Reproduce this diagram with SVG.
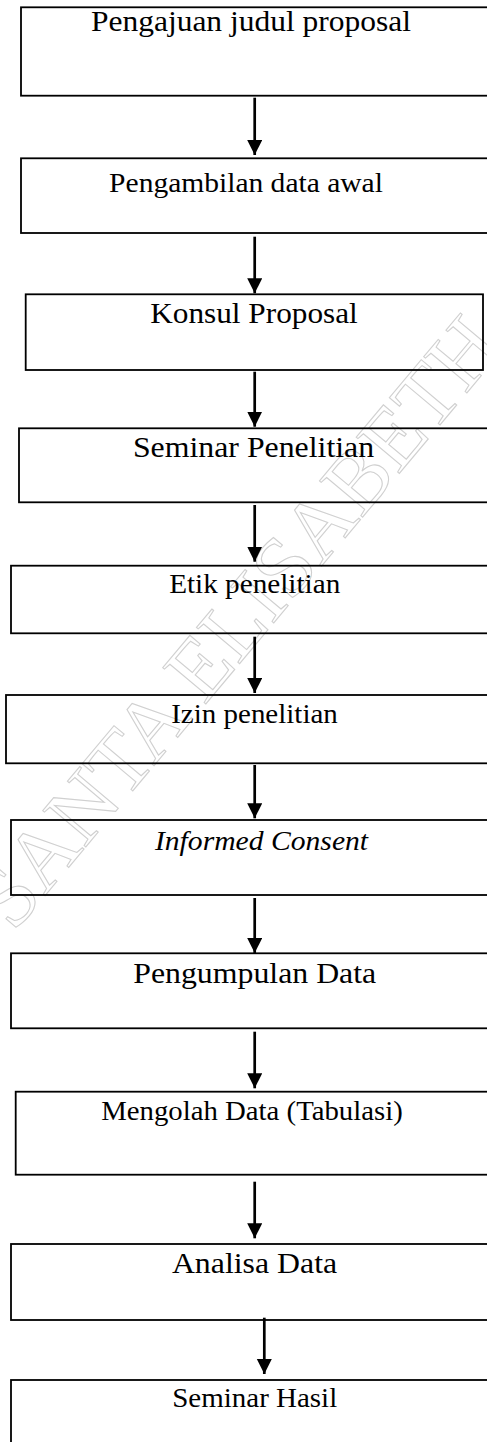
<svg xmlns="http://www.w3.org/2000/svg" width="487" height="1442" viewBox="0 0 487 1442">
<style>
.box{fill:none;stroke:#000;stroke-width:1.8}
.lbl{font-family:"Liberation Serif","Times New Roman",serif;fill:#000;text-anchor:middle}
.conn{stroke:#000;stroke-width:2.7;fill:none}
.wm{font-family:"Liberation Serif","Times New Roman",serif;font-size:86px;fill:none;stroke:#d0d0d0;stroke-width:1.1;text-anchor:middle}
</style>
<defs>
<marker id="ah" markerUnits="userSpaceOnUse" markerWidth="16" markerHeight="16" viewBox="0 0 16 16" refX="15" refY="7.5" orient="auto">
<path d="M0,0 L15,7.5 L0,15 z" fill="#000"/>
</marker>
</defs>
<rect width="487" height="1442" fill="#fff"/>
<g id="watermark">
<text class="wm" transform="translate(238,622) rotate(-50)" y="28">SANTA ELISABETH</text>
</g>
<g id="n1"><rect class="box" x="21" y="7.3" width="490" height="88.4"/><text class="lbl" transform="translate(251,31) scale(1.09,1)" font-size="28.9">Pengajuan judul proposal</text></g>
<g id="n2"><rect class="box" x="21" y="158.3" width="490" height="74.7"/><text class="lbl" transform="translate(246,192) scale(1.09,1)" font-size="27.1">Pengambilan data awal</text></g>
<g id="n3"><rect class="box" x="25.7" y="294.3" width="457.3" height="75.7"/><text class="lbl" transform="translate(254,322.5) scale(1.09,1)" font-size="28.7">Konsul Proposal</text></g>
<g id="n4"><rect class="box" x="19" y="428.3" width="490" height="74"/><text class="lbl" transform="translate(253.5,456.7) scale(1.09,1)" font-size="29.2">Seminar Penelitian</text></g>
<g id="n5"><rect class="box" x="11" y="565.7" width="490" height="67.6"/><text class="lbl" transform="translate(254.7,592.7) scale(1.09,1)" font-size="26.8">Etik penelitian</text></g>
<g id="n6"><rect class="box" x="6" y="695" width="490" height="68.3"/><text class="lbl" transform="translate(254.5,723.3) scale(1.09,1)" font-size="26.6">Izin penelitian</text></g>
<g id="n7"><rect class="box" x="11" y="820" width="490" height="75"/><text class="lbl" transform="translate(261.5,850) scale(1.09,1)" font-size="27.2" font-style="italic">Informed Consent</text></g>
<g id="n8"><rect class="box" x="11" y="953.3" width="490" height="75"/><text class="lbl" transform="translate(254.7,983.3) scale(1.09,1)" font-size="29.2">Pengumpulan Data</text></g>
<g id="n9"><rect class="box" x="15.7" y="1091.7" width="490" height="83"/><text class="lbl" transform="translate(252,1120) scale(1.09,1)" font-size="26.4">Mengolah Data (Tabulasi)</text></g>
<g id="n10"><rect class="box" x="11" y="1244" width="490" height="76"/><text class="lbl" transform="translate(254.5,1273.3) scale(1.09,1)" font-size="29.2">Analisa Data</text></g>
<g id="n11"><rect class="box" x="11" y="1380" width="490" height="80"/><text class="lbl" transform="translate(254.7,1407.3) scale(1.09,1)" font-size="26.6">Seminar Hasil</text></g>
<g id="connectors">
<line class="conn" x1="254.7" y1="97.7" x2="254.7" y2="155" marker-end="url(#ah)"/>
<line class="conn" x1="254.7" y1="236.7" x2="254.7" y2="293.3" marker-end="url(#ah)"/>
<line class="conn" x1="254.7" y1="371.7" x2="254.7" y2="426.7" marker-end="url(#ah)"/>
<line class="conn" x1="254.7" y1="505" x2="254.7" y2="561.7" marker-end="url(#ah)"/>
<line class="conn" x1="254.7" y1="636.7" x2="254.7" y2="693" marker-end="url(#ah)"/>
<line class="conn" x1="254.7" y1="765" x2="254.7" y2="818.3" marker-end="url(#ah)"/>
<line class="conn" x1="254.7" y1="898" x2="254.7" y2="953" marker-end="url(#ah)"/>
<line class="conn" x1="254.7" y1="1031.7" x2="254.7" y2="1088.3" marker-end="url(#ah)"/>
<line class="conn" x1="254.7" y1="1181.7" x2="254.7" y2="1238.3" marker-end="url(#ah)"/>
<line class="conn" x1="264.3" y1="1317.7" x2="264.3" y2="1374" marker-end="url(#ah)"/>
</g>
</svg>
